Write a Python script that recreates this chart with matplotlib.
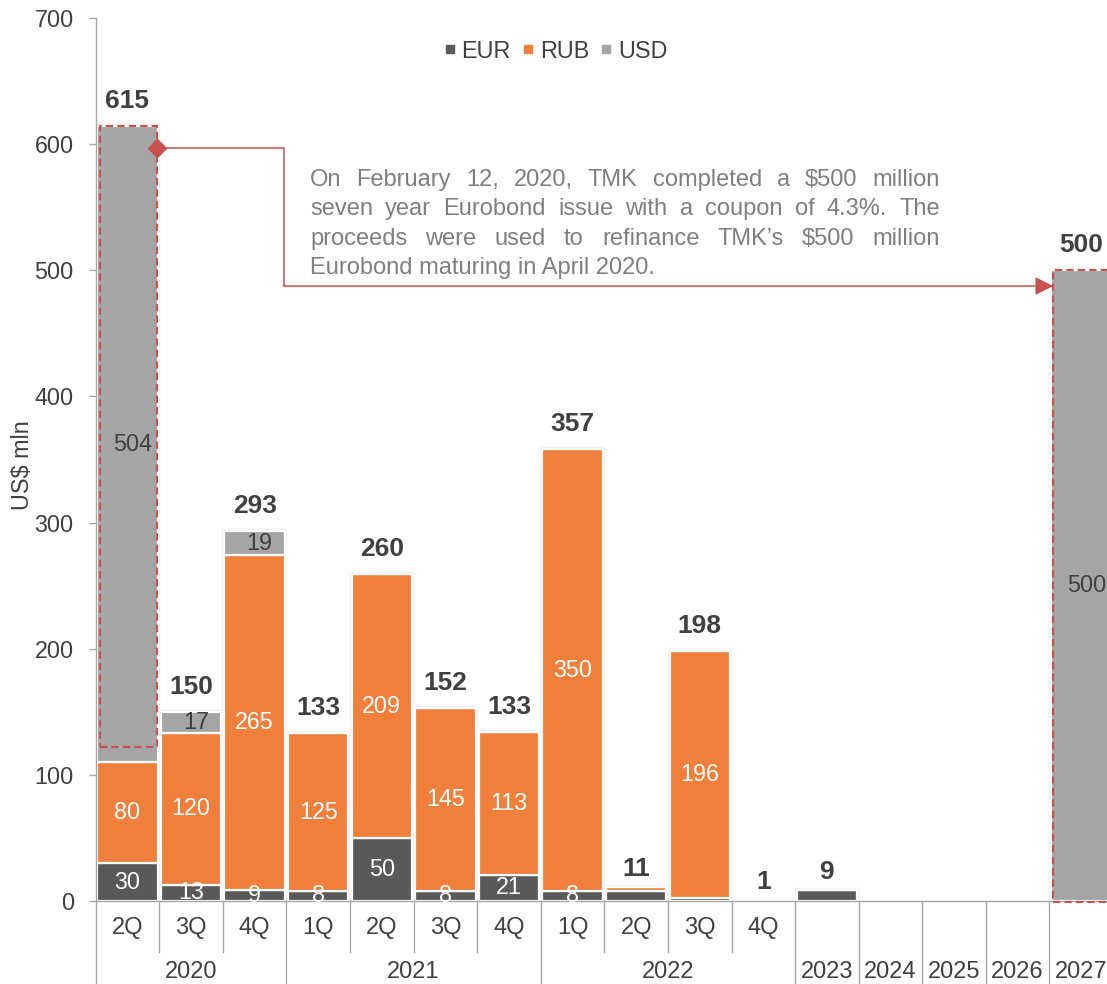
import matplotlib
matplotlib.use('Agg')
import matplotlib.pyplot as plt
from matplotlib.lines import Line2D
from matplotlib.patches import Rectangle
import numpy as np

plt.rcParams['font.family'] = ['Liberation Sans', 'DejaVu Sans']
plt.rcParams['text.parse_math'] = False

# ---------------- data ----------------
quarters = ['2Q', '3Q', '4Q', '1Q', '2Q', '3Q', '4Q', '1Q', '2Q', '3Q', '4Q', '', '', '', '', '']
years = ['2020', '2020', '2020', '2021', '2021', '2021', '2021', '2022', '2022', '2022', '2022',
         '2023', '2024', '2025', '2026', '2027']
eur = [30, 13, 9, 8, 50, 8, 21, 8, 8, 2, 0, 9, 0, 0, 0, 0]
rub = [80, 120, 265, 125, 209, 145, 113, 350, 3, 196, 1, 0, 0, 0, 0, 0]
usd = [504, 17, 19, 0, 0, 0, 0, 0, 0, 0, 0, 0, 0, 0, 0, 500]
totals = [615, 150, 293, 133, 260, 152, 133, 357, 11, 198, 1, 9, None, None, None, 500]
eur_lbl = ['30', '13', '9', '8', '50', '8', '21', '8', '', '', '', '', '', '', '', '']
rub_lbl = ['80', '120', '265', '125', '209', '145', '113', '350', '', '196', '', '', '', '', '', '']
usd_lbl = ['504', '17', '19', '', '', '', '', '', '', '', '', '', '', '', '', '500']
series_names = ['EUR', 'RUB', 'USD']
note_lines = [
    "On February 12, 2020, TMK completed a $500 million",
    "seven year Eurobond issue with a coupon of 4.3%. The",
    "proceeds were used to refinance TMK\u2019s $500 million",
    "Eurobond maturing in April 2020.",
]

# ---------------- style ----------------
C_EUR = '#595959'
C_RUB = '#F07F3C'
C_USD = '#A5A5A5'
C_TXT = '#404040'
C_AX = '#A6A6A6'
C_RED = '#C8504E'
FS = 16.8

W, H = 1107, 984
fig = plt.figure(figsize=(W / 100, H / 100), dpi=100)
ax_left, ax_right, ax_bot, ax_top = 95.7, 1113.0, 901.0, 18.0
ax = fig.add_axes([ax_left / W, 1 - ax_bot / H, (ax_right - ax_left) / W, (ax_bot - ax_top) / H])

n = len(years)
x = np.arange(n)
eur_a = np.array(eur, float)
rub_a = np.array(rub, float)
usd_a = np.array(usd, float)
bw = 0.95

# faint outline of total bars
tot_h = eur_a + rub_a + usd_a
mask = tot_h > 0
ax.bar(x[mask], tot_h[mask], width=bw, fill=False, edgecolor='#F0F0F0', linewidth=3.2, zorder=1)

ax.bar(x, eur_a, width=bw, color=C_EUR, edgecolor='white', linewidth=1.6, zorder=2)
ax.bar(x, rub_a, width=bw, bottom=eur_a, color=C_RUB, edgecolor='white', linewidth=1.6, zorder=2)
ax.bar(x, usd_a, width=bw, bottom=eur_a + rub_a, color=C_USD, edgecolor='white', linewidth=1.6, zorder=2)

for i in range(n):
    if eur_lbl[i]:
        ax.text(x[i], eur_a[i] / 2, eur_lbl[i], ha='center', va='center', color='white', fontsize=FS, zorder=5)
    if rub_lbl[i]:
        ax.text(x[i], eur_a[i] + rub_a[i] / 2, rub_lbl[i], ha='center', va='center', color='white', fontsize=FS, zorder=5)
    if usd_lbl[i]:
        ax.text(x[i] + 0.08, eur_a[i] + rub_a[i] + usd_a[i] / 2, usd_lbl[i], ha='center', va='center',
                color=C_TXT, fontsize=FS, zorder=5)
    if totals[i] is not None:
        off = 13 if tot_h[i] > 20 else 8
        ax.annotate(str(totals[i]), xy=(x[i], tot_h[i]), xytext=(0, off), textcoords='offset points',
                    ha='center', va='baseline', fontsize=19, fontweight='bold', color=C_TXT, zorder=5)

# red dashed highlight boxes around the USD Eurobond amounts
i0 = 0
ax.add_patch(Rectangle((x[i0] - 0.43, 122), 0.89, tot_h[i0] - 122, fill=False, edgecolor=C_RED,
                       linewidth=1.5, linestyle=(0, (3.5, 2)), zorder=4))
i1 = n - 1
ax.add_patch(Rectangle((x[i1] - 0.44, -1), 0.9, tot_h[i1] + 1, fill=False, edgecolor=C_RED,
                       linewidth=1.5, linestyle=(0, (3.5, 2)), zorder=4, clip_on=False))

# connector with diamond start and arrow end
xs = x[i0] + 0.47
xm = 2.46
y_start, y_end = 597, 487.5
ax.plot([xs, xm, xm], [y_start, y_start, y_end], color=C_RED, lw=1.1, zorder=4, solid_joinstyle='miter')
ax.plot([xs], [y_start], marker='D', markersize=9, color=C_RED, zorder=6)
ax.annotate('', xy=(x[i1] - 0.44, y_end), xytext=(xm, y_end),
            arrowprops=dict(arrowstyle='-|>,head_length=1.1,head_width=0.55', color=C_RED, lw=1.1,
                            shrinkA=0, shrinkB=0), zorder=4)

# axes styling
ax.set_xlim(-0.5, n - 0.5)
ax.set_ylim(0, 700)
ax.set_yticks(np.arange(0, 701, 100))
ax.set_xticks([])
for s in ['top', 'right']:
    ax.spines[s].set_visible(False)
for s in ['left', 'bottom']:
    ax.spines[s].set_color(C_AX)
    ax.spines[s].set_linewidth(1.0)
ax.tick_params(axis='y', length=5, width=1, color=C_AX, pad=10.8, labelsize=FS, labelcolor=C_TXT)
fig.text(23 / W, 1 - 465 / H, 'US$ mln', rotation=90, ha='center', va='center', fontsize=FS, color=C_TXT)

# category labels and separators
xt = ax.get_xaxis_transform()
y_q = (ax_bot - 928) / (ax_bot - ax_top)
y_y = (ax_bot - 972) / (ax_bot - ax_top)
y_qsep = (ax_bot - 952) / (ax_bot - ax_top)
y_full = (ax_bot - 1000) / (ax_bot - ax_top)
for i in range(n):
    if quarters[i]:
        ax.text(x[i], y_q, quarters[i], transform=xt, ha='center', va='center', fontsize=17, color=C_TXT)
start = 0
for i in range(1, n + 1):
    if i == n or years[i] != years[start]:
        ax.text((start + i - 1) / 2, y_y, years[start], transform=xt, ha='center', va='center',
                fontsize=17, color=C_TXT)
        start = i
for i in range(0, n + 1):
    if i == 0 or i == n or years[i] != years[i - 1]:
        y_low = y_full
    else:
        y_low = y_qsep
    ax.plot([i - 0.5, i - 0.5], [0, y_low], transform=xt, color=C_AX, lw=1.0, clip_on=False, zorder=3)

# legend
handles = [Line2D([], [], marker='s', ls='none', color=c, markersize=6)
           for c in (C_EUR, C_RUB, C_USD)]
ax.legend(handles, series_names, loc='center', bbox_to_anchor=(555 / W, 1 - 51 / H),
          bbox_transform=fig.transFigure, ncol=3, frameon=False, fontsize=FS, handletextpad=0.2,
          columnspacing=0.45, handlelength=0.6, labelcolor=C_TXT)

# justified annotation text
fig.canvas.draw()
renderer = fig.canvas.get_renderer()
tx0, tx1 = 310, 940
for k, line in enumerate(note_lines):
    ybase = 186 + k * 29.4
    if k < len(note_lines) - 1:
        words = line.split(' ')
        texts = [fig.text(0, 0, w, fontsize=17, color='#7F7F7F', ha='left', va='baseline') for w in words]
        widths = [t.get_window_extent(renderer).width for t in texts]
        gap = (tx1 - tx0 - sum(widths)) / (len(words) - 1)
        pos = tx0
        for t, wd in zip(texts, widths):
            t.set_position((pos / W, 1 - ybase / H))
            pos += wd + gap
    else:
        fig.text(tx0 / W, 1 - ybase / H, line, fontsize=17, color='#7F7F7F', ha='left', va='baseline')

fig.savefig('out.png', dpi=100)
